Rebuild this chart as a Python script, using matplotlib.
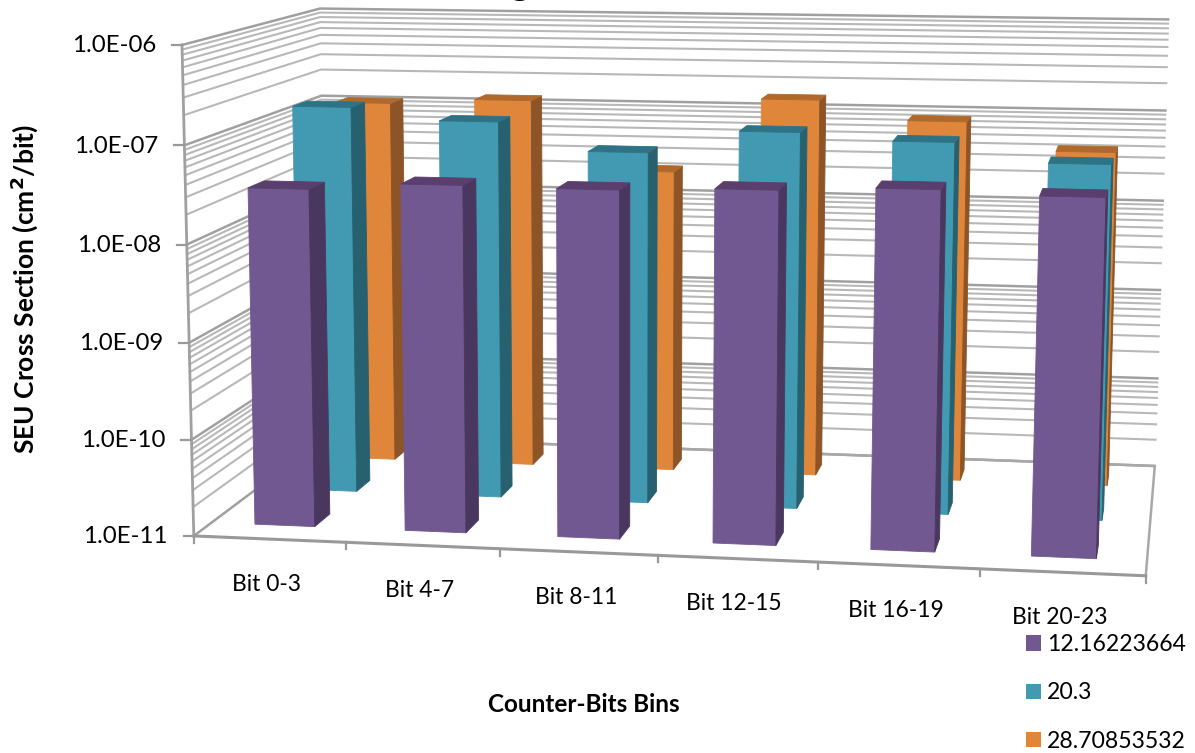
import numpy as np
import matplotlib
matplotlib.use("Agg")
import matplotlib.pyplot as plt
from matplotlib.patches import Polygon, Patch

plt.rcParams['font.family'] = ['Lato', 'DejaVu Sans']

# chart data
categories = ["Bit 0-3", "Bit 4-7", "Bit 8-11", "Bit 12-15", "Bit 16-19", "Bit 20-23"]
series_names = ["12.16223664", "20.3", "28.70853532"]
purple_vals = [3.2e-8, 3.8e-8, 3.7e-8, 4.0e-8, 4.4e-8, 4.0e-8]
teal_vals = [1.47e-7, 1.1e-7, 5.6e-8, 0.98e-7, 8.3e-8, 5.3e-8]
orange_vals = [1.1e-7, 1.26e-7, 2.2e-8, 1.45e-7, 9.0e-8, 4.5e-8]
decades = [-11, -10, -9, -8, -7, -6]
decade_labels = ["1.0E-11", "1.0E-10", "1.0E-09", "1.0E-08", "1.0E-07", "1.0E-06"]

# (front face, side face, top face)
purple_cols = ("#725890", "#4A3760", "#5A3E6E")
teal_cols = ("#4299B2", "#27606F", "#2E7385")
orange_cols = ("#DF863B", "#8C5427", "#B0692B")

# box corners: (category, depth, log10 value) -> pixel, used to fit the camera
box_pts = [(0, 0, -11), (6, 0, -11), (6, 1, -11), (0, 1, -11), (0, 0, -6), (0, 1, -6), (6, 1, -6),
           (1, 0, -11), (2, 0, -11), (5, 0, -11)]
pix_pts = [(195, 535), (1146, 577), (1155, 464), (326, 438), (181, 45), (321, 8), (1168, 20),
           (346, 541.7), (500, 548.3), (980, 569.7)]


def fit_camera(box, pix):
    rows = []
    for (a, b, c), (px, py) in zip(box, pix):
        X = [a / 6, b, (c + 11) / 5, 1]
        x, y = px / 1000, py / 1000
        rows.append(X + [0, 0, 0, 0] + [-x * k for k in X])
        rows.append([0, 0, 0, 0] + X + [-y * k for k in X])
    return np.linalg.svd(np.array(rows))[2][-1].reshape(3, 4)


cam = fit_camera(box_pts, pix_pts)


def proj(u, v, w):
    h = cam @ np.array([u / 6, v, (w + 11) / 5, 1])
    return 1000 * h[0] / h[2], 1000 * h[1] / h[2]


def draw_bar(ax, u0, u1, v0, v1, w, cols, z):
    front = [proj(u0, v0, -11), proj(u1, v0, -11), proj(u1, v0, w), proj(u0, v0, w)]
    side = [proj(u1, v0, -11), proj(u1, v1, -11), proj(u1, v1, w), proj(u1, v0, w)]
    top = [proj(u0, v0, w), proj(u1, v0, w), proj(u1, v1, w), proj(u0, v1, w)]
    for pts, c in zip((front, side, top), cols):
        ax.add_patch(Polygon(pts, closed=True, facecolor=c, edgecolor=c, lw=0.6, zorder=z))


fig = plt.figure(figsize=(11.95, 7.53), dpi=100)
ax = fig.add_axes([0, 0, 1, 1])
ax.set_xlim(0, 1195)
ax.set_ylim(753, 0)
ax.axis("off")

# gridlines on the two walls
for d in decades:
    for m in range(1, 10):
        if d == -6 and m > 1:
            continue
        w = d + np.log10(m)
        pts = [proj(0, 0, w), proj(0, 1, w), proj(6, 1, w)]
        if m == 1:
            ax.plot(*zip(*pts), color="#A0A0A0", lw=1.8, zorder=1)
        else:
            ax.plot(*zip(*pts), color="#B8B8B8", lw=1.5, zorder=1)

# floor edges
floor = [proj(0, 1, -11), proj(6, 1, -11), proj(6, 0, -11)]
ax.plot(*zip(*floor), color="#A8A8A8", lw=1.8, zorder=1.5)
ax.plot(*zip(proj(0, 0, -11), proj(6, 0, -11)), color="#999999", lw=2.2, zorder=5)
ax.plot(*zip(proj(0, 0, -11), proj(0, 0, -6)), color="#A0A0A0", lw=2.0, zorder=1.5)

# bars, back row first
rows = [(orange_vals, orange_cols, 0.78, 0.89), (teal_vals, teal_cols, 0.45, 0.56),
        (purple_vals, purple_cols, 0.12, 0.235)]
for i, (vals, cols, v0, v1) in enumerate(rows):
    for k, val in enumerate(vals):
        draw_bar(ax, k + 0.29, k + 0.69, v0, v1, np.log10(val), cols, 2 + i)

# y ticks and labels
for d, lab in zip(decades, decade_labels):
    x, y = proj(0, 0, d)
    ax.plot([x - 10, x], [y, y], color="#999999", lw=1.6, zorder=1.5)
    ax.text(x - 26, y + 1, lab, ha="right", va="center", fontsize=17.3, color="black")

# category ticks and labels
for k in range(7):
    x, y = proj(k, 0, -11)
    ax.plot([x, x], [y, y + 7], color="#999999", lw=1.6, zorder=1.5)
for k, lab in enumerate(categories):
    x, y = proj(k + 0.5, 0, -11)
    ax.text(x - 3, y + 45, lab, ha="center", va="center", fontsize=16.5, color="black")

# only the tail of the chart title is left at the top edge of the picture
ax.text(520, -5, "g", ha="center", va="baseline", fontsize=28, fontweight="bold", color="black")

ax.text(24, 289, "SEU Cross Section (cm$^{\\mathbf{2}}$/bit)", rotation=90, ha="center", va="center",
        fontsize=19, fontweight="bold")
ax.text(584, 705, "Counter-Bits Bins", ha="center", va="center", fontsize=17.5, fontweight="bold")

# legend
handles = [Patch(facecolor=c[0], label=n) for c, n in zip((purple_cols, teal_cols, orange_cols), series_names)]
ax.legend(handles=handles, loc="upper left", bbox_to_anchor=(1026, 634), bbox_transform=ax.transData,
          frameon=False, fontsize=16.6, handlelength=0.65, handleheight=0.65, handletextpad=0.25,
          labelspacing=1.19, borderpad=0, borderaxespad=0)

fig.savefig("out.png", dpi=100)
